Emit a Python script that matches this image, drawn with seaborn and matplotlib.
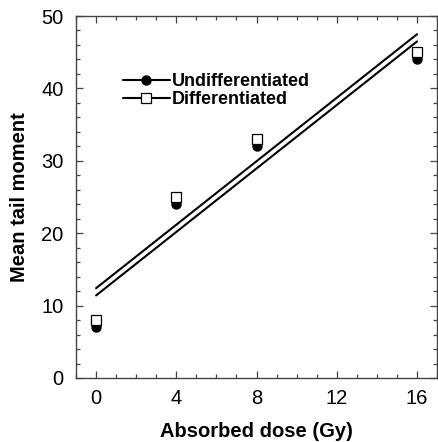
import matplotlib
matplotlib.use("Agg")
import matplotlib.pyplot as plt
from matplotlib.lines import Line2D
from matplotlib.ticker import MultipleLocator
import seaborn as sns
import pandas as pd

dose = [0, 4, 8, 16]
undiff = [7, 24, 32, 44]
diff = [8, 25, 33, 45]
labels = ["Undifferentiated", "Differentiated"]

sns.set_style("ticks")
plt.rcParams['font.family'] = ['Liberation Sans', 'DejaVu Sans']
plt.rcParams['text.color'] = 'black'
plt.rcParams['axes.labelcolor'] = 'black'
plt.rcParams['xtick.labelcolor'] = 'black'
plt.rcParams['ytick.labelcolor'] = 'black'

fig = plt.figure(figsize=(4.38, 4.42), dpi=100)
ax = fig.add_axes([0.1735, 0.1448, 0.8245, 0.819])

df_u = pd.DataFrame({"dose": dose, "tm": undiff})
df_d = pd.DataFrame({"dose": dose, "tm": diff})

sns.regplot(data=df_u, x="dose", y="tm", scatter=False, ci=None, ax=ax,
            line_kws=dict(color="black", lw=1.5), truncate=True)
sns.regplot(data=df_d, x="dose", y="tm", scatter=False, ci=None, ax=ax,
            line_kws=dict(color="black", lw=1.5), truncate=True)

ax.plot(df_u["dose"], df_u["tm"], ls="none", marker="o", ms=6.5,
        mfc="black", mec="black", zorder=3)
ax.plot(df_d["dose"], df_d["tm"], ls="none", marker="s", ms=6.5,
        mfc="white", mec="black", mew=0.9, zorder=4)

ax.set_xlim(-1, 17)
ax.set_ylim(0, 50)
ax.xaxis.set_major_locator(MultipleLocator(4))
ax.xaxis.set_minor_locator(MultipleLocator(1))
ax.yaxis.set_major_locator(MultipleLocator(10))
ax.yaxis.set_minor_locator(MultipleLocator(2))
ax.tick_params(which="both", direction="in", top=True, right=True,
               color="#444444", width=0.9, labelcolor="black")
ax.tick_params(which="major", length=5, labelsize=14.5)
ax.tick_params(axis="x", which="major", pad=8)
ax.tick_params(axis="y", which="major", pad=9)
ax.tick_params(which="minor", length=3)
for s in ax.spines.values():
    s.set_color("#444444")
    s.set_linewidth(1.0)

ax.set_xlabel("Absorbed dose (Gy)", fontsize=14.5, fontweight="bold", labelpad=10,
              color="black")
ax.set_ylabel("Mean tail moment", fontsize=14.5, fontweight="bold", labelpad=9,
              color="black")

handles = [
    Line2D([], [], color="black", lw=1.5, marker="o", ms=6.5, mfc="black", mec="black"),
    Line2D([], [], color="black", lw=1.5, marker="s", ms=6.5, mfc="white", mec="black", mew=0.9),
]
ax.legend(handles, labels, loc="upper left", bbox_to_anchor=(0.11, 0.862),
          frameon=False, handlelength=2.6, handletextpad=0.12, labelspacing=0.05,
          prop=dict(weight="bold", size=13), borderaxespad=0, labelcolor="black")

fig.savefig("out.png", dpi=100)
